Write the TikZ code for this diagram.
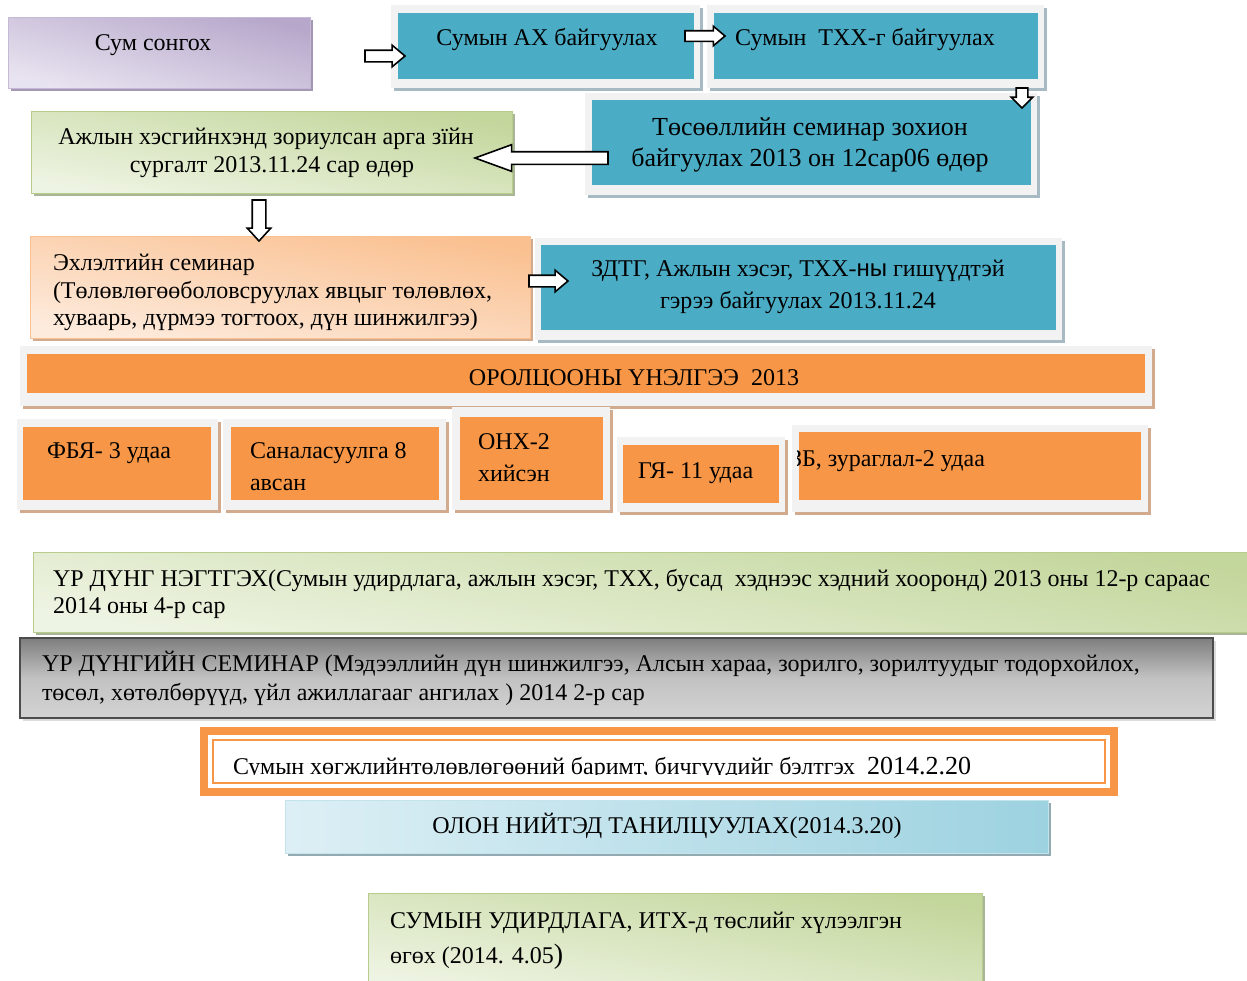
\documentclass[tikz,border=0pt]{standalone}
\usepackage{fontspec}
\setmainfont{Liberation Serif}
\newfontfamily\sansf{Liberation Sans}
\usetikzlibrary{fit,shapes.arrows,shadows}
\definecolor{cblue}{HTML}{4BACC6}
\definecolor{corange}{HTML}{F79646}
\definecolor{cframe}{HTML}{F2F2F2}
\definecolor{shblue}{HTML}{A7BAC4}
\definecolor{shtan}{HTML}{D2AB8E}
\definecolor{purD}{HTML}{B7A8CB}
\definecolor{purL}{HTML}{E8E3F0}
\definecolor{shpur}{HTML}{A397B3}
\definecolor{grnD}{HTML}{C3D69B}
\definecolor{grnL}{HTML}{EEF4E3}
\definecolor{grnB}{HTML}{B8CC8C}
\definecolor{shgrn}{HTML}{A8B596}
\definecolor{peaD}{HTML}{FAC090}
\definecolor{peaL}{HTML}{FDEBDD}
\definecolor{lbD}{HTML}{9DD2E0}
\definecolor{lbL}{HTML}{DDEFF5}
\definecolor{shlb}{HTML}{93AAB3}
\definecolor{gryD}{HTML}{7E7E7E}
\definecolor{gryL}{HTML}{D3D3D3}
\newcommand\mybox[6]{\node[fit={(#2,#3) (#4,#5)}, inner sep=0pt, outer sep=0pt, #6] (#1) {};}
\tikzset{
  shd/.style={general shadow={fill=#1, shadow xshift=3pt, shadow yshift=-3pt}},
  framebox/.style={fill=cframe, shd=#1},
  bluebox/.style={fill=cblue},
  orbox/.style={fill=corange},
  txt/.style={inner sep=0pt, outer sep=0pt, font=\fontsize{24}{28}\selectfont},
  barrow/.style={single arrow, draw=black, fill=white, line width=1.6pt, outer sep=0pt, anchor=tip},
}
\begin{document}
\begin{tikzpicture}[x=1pt,y=-1pt]
\useasboundingbox (0,0) rectangle (1247,980);
\fill[white] (0,0) rectangle (1247,980);

% ---- row 1
\mybox{b1}{8}{17}{310}{88}{shd=shpur, top color=purD, bottom color=purL, shading angle=-15, draw=purD!80!white, line width=0.8pt}
\mybox{fr2}{391}{5}{700}{88}{framebox=shblue}
\mybox{b2}{398}{13}{694}{79}{bluebox}
\mybox{fr3}{707}{5}{1044}{88}{framebox=shblue}
\mybox{b3}{714}{13}{1038}{79}{bluebox}
\node[txt, anchor=base] (t1) at (153,50) {Сум сонгох};
\node[txt, anchor=base] (t2) at (547,45) {Сумын АХ байгуулах};
\node[txt, anchor=base] (t3) at (865,45) {Сумын\ \ ТХХ-г байгуулах};

% ---- row 2
\mybox{fr4}{585}{93}{1037}{195}{framebox=shblue}
\mybox{b4}{592}{100}{1031}{185}{bluebox}
\node[txt, font=\fontsize{26}{30}\selectfont, anchor=base] (t4a) at (810,135) {Төсөөллийн семинар зохион};
\node[txt, font=\fontsize{26}{30}\selectfont, anchor=base] (t4b) at (810,166) {байгуулах 2013 он 12сар06 өдөр};
\mybox{b5}{31}{111}{512}{193}{shd=shgrn, top color=grnD, bottom color=grnL, shading angle=-10, draw=grnB, line width=0.8pt}
\node[txt, anchor=base] (t5a) at (266,144) {Ажлын хэсгийнхэнд зориулсан арга зїйн};
\node[txt, anchor=base] (t5b) at (272,172) {сургалт 2013.11.24 сар өдөр};

% ---- row 3
\mybox{b6}{30}{236}{530}{338}{shd=shtan, top color=peaD, bottom color=peaL, shading angle=-10, draw=peaD, line width=0.8pt}
\node[txt, anchor=base west] (t6a) at (53,270) {Эхлэлтийн семинар};
\node[txt, anchor=base west] (t6b) at (53,298) {(Төлөвлөгөөболовсруулах явцыг төлөвлөх,};
\node[txt, anchor=base west] (t6c) at (53,325) {хуваарь, дүрмээ тогтоох, дүн шинжилгээ)};
\mybox{fr7}{535}{238}{1062}{340}{framebox=shblue}
\mybox{b7}{541}{245}{1056}{330}{bluebox}
\node[txt, anchor=base] (t7a) at (798,276) {ЗДТГ, Ажлын хэсэг, ТХХ-{\sansf ны} гишүүдтэй};
\node[txt, anchor=base] (t7b) at (798,308) {гэрээ байгуулах 2013.11.24};

% ---- participation
\mybox{fr8}{20}{346}{1152}{406}{framebox=shtan}
\mybox{b8}{27}{354}{1145}{393}{orbox}
\begin{scope}
\clip (27,354) rectangle (1145,385.5);
\node[txt, anchor=base] (t8) at (634,385) {ОРОЛЦООНЫ ҮНЭЛГЭЭ\ \ 2013};
\end{scope}

\mybox{fr9}{17}{419}{218}{510}{framebox=shtan}
\mybox{b9}{23}{427}{211}{500}{orbox}
\node[txt, anchor=base west] (t9) at (47,458) {ФБЯ- 3 удаа};
\mybox{fr10}{223}{419}{446}{510}{framebox=shtan}
\mybox{b10}{231}{427}{439}{500}{orbox}
\node[txt, anchor=base west] (t10a) at (250,458) {Саналасуулга 8};
\node[txt, anchor=base west] (t10b) at (250,490) {авсан};
\mybox{fr11}{452}{407}{610}{510}{framebox=shtan}
\mybox{b11}{460}{417}{603}{500}{orbox}
\node[txt, anchor=base west] (t11a) at (478,449) {ОНХ-2};
\node[txt, anchor=base west] (t11b) at (478,481) {хийсэн};
\mybox{fr12}{617}{437}{785}{512}{framebox=shtan}
\mybox{b12}{623}{445}{779}{503}{orbox}
\node[txt, anchor=base west] (t12) at (638,478) {ГЯ- 11 удаа};
\mybox{fr13}{792}{425}{1148}{512}{framebox=shtan}
\mybox{b13}{799}{432}{1141}{500}{orbox}
\begin{scope}
\clip (797,425) rectangle (1148,512);
\node[txt, anchor=base west] (t13) at (790,466) {ЗБ, зураглал-2 удаа};
\end{scope}

% ---- results
\mybox{b14}{33}{552}{1262}{632}{shd=shgrn, top color=grnD, bottom color=grnL, shading angle=-10, draw=grnB, line width=0.8pt}
\node[txt, anchor=base west] (t14a) at (53,586) {ҮР ДҮНГ НЭГТГЭХ(Сумын удирдлага, ажлын хэсэг, ТХХ, бусад\ \ хэднээс хэдний хооронд) 2013 оны 12-р сараас};
\node[txt, anchor=base west] (t14b) at (53,613) {2014 оны 4-р сар};

\mybox{b15}{20}{638}{1213}{718}{shd=gryL!80!white, top color=gryD, bottom color=gryL, middle color=gryL!92!black, draw=black!70, line width=1.6pt}
\node[txt, anchor=base west] (t15a) at (42,671) {ҮР ДҮНГИЙН СЕМИНАР (Мэдээллийн дүн шинжилгээ, Алсын хараа, зорилго, зорилтуудыг тодорхойлох,};
\node[txt, anchor=base west] (t15b) at (42,700) {төсөл, хөтөлбөрүүд, үйл ажиллагааг ангилах ) 2014 2-р сар};

\mybox{b16}{204}{731}{1114}{792}{fill=white, draw=corange, line width=8pt}
\draw[corange, line width=2.5pt] ([shift={(9pt,-9pt)}]b16.north west) rectangle ([shift={(-9pt,9pt)}]b16.south east);
\begin{scope}
\clip (214,741) rectangle (1104,774.5);
\node[txt, anchor=base west] (t16) at (233,774) {Сумын хөгжлийнтөлөвлөгөөний баримт, бичгүүдийг бэлтгэх\ \ {\fontsize{26}{30}\selectfont 2014.2.20}};
\end{scope}

\mybox{b17}{285}{800}{1048}{853}{shd=shlb, left color=lbL, right color=lbD, draw=lbD!60!white, line width=0.8pt}
\node[txt, anchor=base] (t17) at (667,833) {ОЛОН НИЙТЭД ТАНИЛЦУУЛАХ(2014.3.20)};

\mybox{b18}{368}{893}{982}{990}{shd=shgrn, top color=grnD, bottom color=grnL, shading angle=-10, draw=grnB, line width=0.8pt}
\node[txt, anchor=base west] (t18a) at (390,928) {СУМЫН УДИРДЛАГА, ИТХ-д төслийг хүлээлгэн};
\node[txt, anchor=base west] (t18b) at (390,963) {өгөх (2014. 4.05{\fontsize{28}{30}\selectfont )}};

% ---- block arrows
\node[barrow, inner sep=5pt, minimum height=40pt, single arrow head extend=5pt, single arrow tip angle=80] (a1) at (405,56) {};
\node[barrow, inner sep=4.5pt, minimum height=40pt, single arrow head extend=4.5pt, single arrow tip angle=80] (a2) at (725,36) {};
\node[barrow, inner sep=5pt, minimum height=20pt, single arrow head extend=5pt, single arrow tip angle=90, shape border rotate=270] (a3) at (1022,108) {};
\node[barrow, inner sep=5.5pt, minimum height=133pt, single arrow head extend=7pt, single arrow tip angle=40, shape border rotate=180] (a4) at (475,158) {};
\node[barrow, inner sep=6pt, minimum height=41pt, single arrow head extend=5pt, single arrow tip angle=85, shape border rotate=270] (a5) at (259,241) {};
\node[barrow, inner sep=5pt, minimum height=39pt, single arrow head extend=5pt, single arrow tip angle=80] (a6) at (568,281) {};
\end{tikzpicture}
\end{document}
